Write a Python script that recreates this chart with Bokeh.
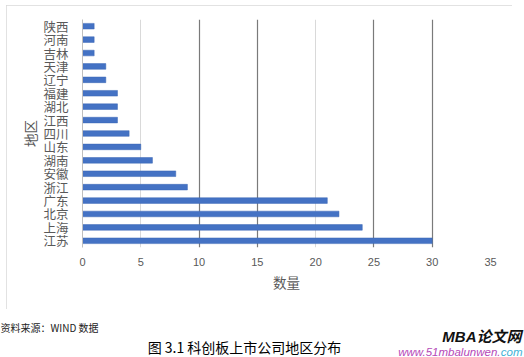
from bokeh.plotting import figure
from bokeh.models import ColumnDataSource, FactorRange, Range1d, FixedTicker, Grid
from bokeh.layouts import column
from bokeh.core.properties import value
from bokeh.embed import file_html
from bokeh.resources import INLINE

regions = ["江苏", "上海", "北京", "广东", "浙江", "安徽", "湖南", "山东", "四川",
           "江西", "湖北", "福建", "辽宁", "天津", "吉林", "河南", "陕西"]
counts = [30, 24, 22, 21, 9, 8, 6, 5, 4, 3, 3, 3, 2, 2, 1, 1, 1]
x_ticks = [0, 5, 10, 15, 20, 25, 30, 35]
x_title = "数量"
y_title = "地区"
source_note = "资料来源：WIND 数据"
caption = "图 3.1 科创板上市公司地区分布"

CJK = "Noto Sans CJK SC"
W, H = 524, 357
# chart box (canvas px)
BX0, BY0, BX1, BY1 = 6, 5, 512, 309
# plot frame (canvas px)
FL, FR, FT, FB = 82, 490, 19, 247

src = ColumnDataSource(dict(region=regions, count=counts))

p = figure(width=BX1 - BX0, height=BY1 - BY0, output_backend="svg",
           toolbar_location=None,
           y_range=FactorRange(factors=regions, range_padding=0),
           x_range=Range1d(0, 35),
           min_border_left=FL - BX0, min_border_right=BX1 - FR,
           min_border_top=FT - BY0, min_border_bottom=BY1 - FB,
           margin=(BY0, 0, 0, BX0), frame_align=False,
           styles={"outline": "1px solid #d9d9d9", "outline-offset": "-1px"})
p.outline_line_color = None
p.background_fill_color = "white"
p.border_fill_color = "white"

p.hbar(y="region", right="count", height=0.42, source=src,
       fill_color="#4472C4", line_color="#3b66b5", line_width=0.5)

# x axis
xa = p.xaxis[0]
xa.ticker = FixedTicker(ticks=x_ticks)
xa.axis_line_color = None
xa.major_tick_line_color = None
xa.minor_tick_line_color = None
xa.major_label_text_font = "Liberation Sans"
xa.major_label_text_font_size = "11px"
xa.major_label_text_color = "#595959"
xa.major_label_standoff = 4
xa.axis_label = x_title
xa.axis_label_text_font = CJK
xa.axis_label_text_font_size = "13.5px"
xa.axis_label_text_font_style = "normal"
xa.axis_label_text_color = "#595959"
xa.axis_label_standoff = 3

# y axis
ya = p.yaxis[0]
ya.axis_line_color = "#bfbfbf"
ya.major_tick_line_color = None
ya.minor_tick_line_color = None
ya.major_label_text_font = CJK
ya.major_label_text_font_size = "12.5px"
ya.major_label_text_color = "#595959"
ya.major_label_standoff = 8
ya.axis_label = y_title
ya.axis_label_text_font = CJK
ya.axis_label_text_font_size = "13.5px"
ya.axis_label_text_font_style = "normal"
ya.axis_label_text_color = "#595959"
ya.axis_label_standoff = 0

# grids
p.ygrid.grid_line_color = None
p.xgrid.ticker = FixedTicker(ticks=[5, 20, 35])
p.xgrid.grid_line_color = "#d9d9d9"
p.add_layout(Grid(dimension=0, ticker=FixedTicker(ticks=[10, 15, 25, 30]),
                  grid_line_color="#7a7a7a", grid_line_width=1.2))

# footer (canvas px coordinates)
foot = figure(width=W, height=H - BY1, output_backend="svg", toolbar_location=None,
              x_range=Range1d(0, W), y_range=Range1d(H, BY1),
              min_border=0, margin=(0, 0, 0, 0), frame_align=False)
foot.axis.visible = False
foot.grid.visible = False
foot.outline_line_color = None
foot.border_fill_color = "white"

foot.text(x=[0], y=[327], text=[source_note], text_font=value(CJK),
          text_font_size="10px", text_color="#222222",
          text_baseline="middle", text_align="left")
foot.text(x=[244], y=[346], text=[caption], text_font=value(CJK),
          text_font_size="14px", text_color="#000000",
          text_baseline="middle", text_align="center")
foot.text(x=[521], y=[336], text=["MBA论文网"],
          text_font=value("Liberation Sans, Noto Sans CJK SC"),
          text_font_size="15px", text_font_style="bold italic",
          text_color="#111111", text_baseline="middle", text_align="right")
foot.text(x=[522], y=[351], text=["com"], text_font=value("Liberation Sans"),
          text_font_size="11.5px", text_font_style="italic", text_color="#3fb2d6",
          text_baseline="middle", text_align="right")
foot.text(x=[500], y=[351], text=["www.51mbalunwen."], text_font=value("Liberation Sans"),
          text_font_size="11.5px", text_font_style="italic", text_color="#b548b8",
          text_baseline="middle", text_align="right")

layout = column(p, foot, spacing=0)
open("out.html", "w").write(file_html(layout, INLINE))
